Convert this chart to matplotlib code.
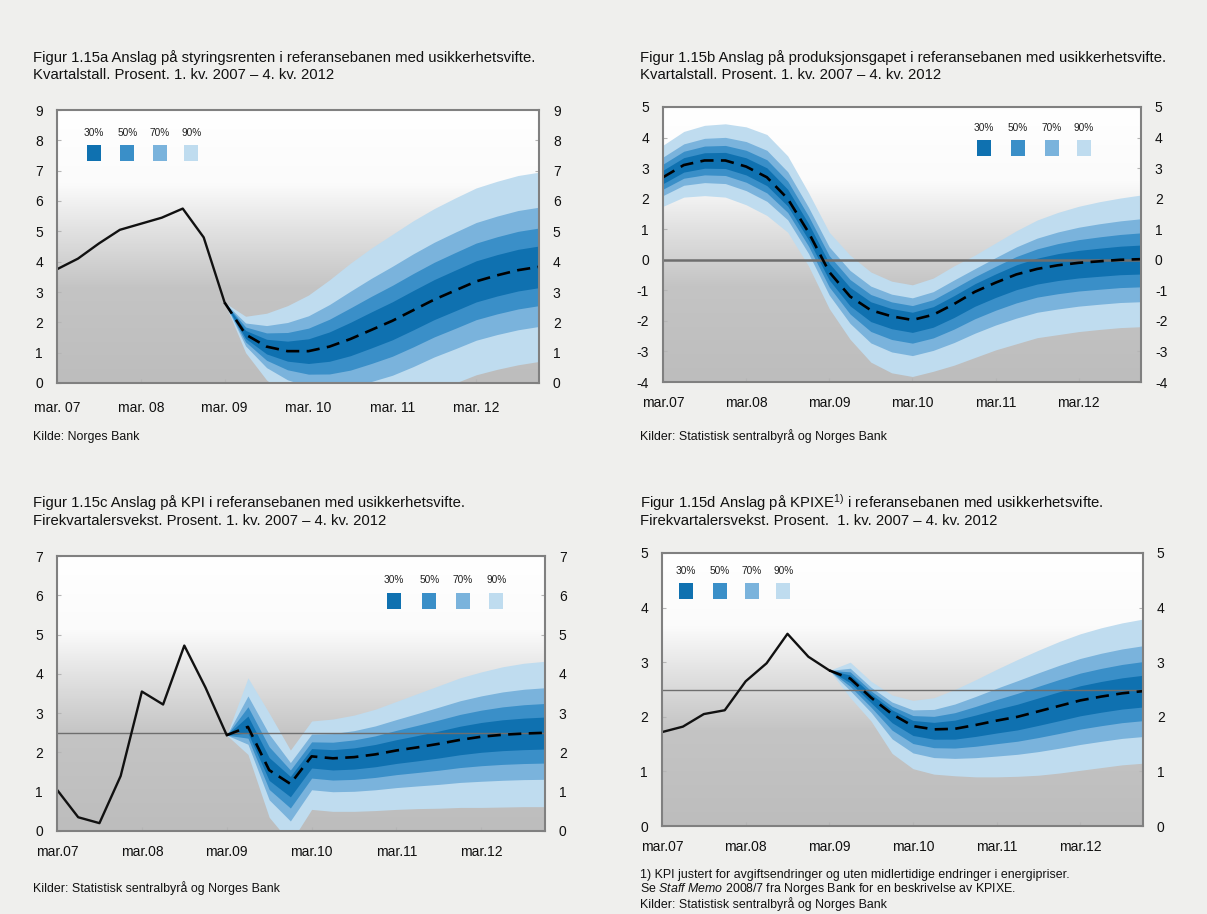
import numpy as np
import matplotlib.pyplot as plt
from matplotlib.colors import LinearSegmentedColormap
from matplotlib.patches import Rectangle

plt.rcParams['font.family'] = ['Liberation Sans', 'DejaVu Sans']
plt.rcParams['axes.unicode_minus'] = False
plt.rcParams['mathtext.fontset'] = 'custom'
plt.rcParams['mathtext.rm'] = 'Liberation Sans'
plt.rcParams['mathtext.it'] = 'Liberation Sans:italic'

# Quarters 1. kv. 2007 - 4. kv. 2012 (0 = 1. kv. 2007)
quarters = np.arange(24)
tick_pos = [0, 4, 8, 12, 16, 20]

# Fan bands: width of each band relative to the 90% band
band_labels = ['30%', '50%', '70%', '90%']
band_share = [0.22, 0.41, 0.63, 1.0]
band_colors = ['#0f71b0', '#3a8fc8', '#7ab3dc', '#bfdcef']

# Figur 1.15a - styringsrenten
rate_hist = [3.75, 4.1, 4.6, 5.05, 5.25, 5.45, 5.75, 4.8, 2.65]
rate_start = 8
rate_med = [2.65, 1.6, 1.2, 1.05, 1.05, 1.2, 1.45, 1.75, 2.05, 2.4, 2.75, 3.05, 3.35, 3.55, 3.72, 3.83]
rate_up90 = [0, 0.6, 1.1, 1.5, 1.85, 2.2, 2.5, 2.7, 2.85, 2.95, 3.0, 3.05, 3.08, 3.1, 3.12, 3.12]
rate_dn90 = rate_up90

# Figur 1.15b - produksjonsgapet (fan over the whole period)
gap_start = 0
gap_med = [2.7, 3.1, 3.25, 3.25, 3.05, 2.7, 2.0, 0.9, -0.4, -1.2, -1.65, -1.85,
           -1.97, -1.8, -1.45, -1.05, -0.75, -0.48, -0.3, -0.18, -0.1, -0.05, 0.0, 0.02]
gap_up90 = [1.05, 1.1, 1.15, 1.2, 1.3, 1.4, 1.4, 1.3, 1.3, 1.35, 1.25, 1.15,
            1.15, 1.2, 1.25, 1.2, 1.3, 1.43, 1.6, 1.73, 1.85, 1.95, 2.02, 2.1]
gap_dn90 = [0.95, 1.05, 1.15, 1.2, 1.25, 1.25, 1.1, 1.1, 1.2, 1.4, 1.7, 1.85,
            1.85, 1.85, 2.0, 2.15, 2.2, 2.27, 2.25, 2.27, 2.25, 2.23, 2.22, 2.21]

# Figur 1.15c - KPI
kpi_hist = [1.05, 0.35, 0.2, 1.4, 3.55, 3.22, 4.72, 3.65, 2.44]
kpi_start = 8
kpi_med = [2.44, 2.65, 1.55, 1.2, 1.9, 1.85, 1.88, 1.95, 2.05, 2.13, 2.22, 2.32, 2.4, 2.45, 2.48, 2.5]
kpi_up90 = [0, 1.25, 1.45, 0.86, 0.9, 1.0, 1.07, 1.15, 1.25, 1.37, 1.48, 1.58, 1.65, 1.73, 1.79, 1.82]
kpi_dn90 = [0, 0.7, 1.2, 1.5, 1.35, 1.35, 1.38, 1.43, 1.5, 1.56, 1.64, 1.72, 1.8, 1.84, 1.86, 1.88]

# Figur 1.15d - KPIXE
kpixe_hist = [1.72, 1.82, 2.05, 2.12, 2.65, 2.98, 3.52, 3.1, 2.85]
kpixe_start = 8
kpixe_med = [2.85, 2.7, 2.35, 2.05, 1.83, 1.77, 1.78, 1.85, 1.93, 2.0, 2.1, 2.2, 2.3, 2.37, 2.43, 2.47]
kpixe_up90 = [0, 0.3, 0.3, 0.35, 0.47, 0.58, 0.72, 0.83, 0.94, 1.05, 1.12, 1.18, 1.22, 1.26, 1.29, 1.32]
kpixe_dn90 = [0, 0.35, 0.43, 0.72, 0.78, 0.82, 0.86, 0.95, 1.03, 1.09, 1.17, 1.23, 1.28, 1.3, 1.31, 1.32]

W, H = 1207, 914
fig = plt.figure(figsize=(W / 100, H / 100), dpi=100, facecolor='#efefed')

bg_cmap = LinearSegmentedColormap.from_list(
    'bg', [(0, '#bdbdbd'), (0.35, '#c4c4c4'), (0.55, '#e0e0e0'), (0.73, '#fbfbfb'), (1, '#ffffff')])
grad = np.linspace(0, 1, 256).reshape(-1, 1)

TITLE = 10.7
NOTE = 8.9


def px_axes(left, top, right, bottom):
    # axes from pixel edges
    return fig.add_axes([left / W, 1 - bottom / H, (right - left) / W, (bottom - top) / H])


def setup(ax, ylim, yticks, xlabels, xpad=10):
    ax.imshow(grad, cmap=bg_cmap, extent=[0, 1, 0, 1], transform=ax.transAxes,
              aspect='auto', origin='lower', zorder=0)
    ax.set_xlim(0, 23)
    ax.set_ylim(*ylim)
    ax.set_yticks(yticks)
    ax.set_xticks(tick_pos)
    ax.set_xticklabels(xlabels)
    ax.tick_params(axis='y', left=True, right=True, labelleft=True, labelright=True,
                   direction='in', length=3, color='#b5b5b5', labelsize=10, pad=10,
                   labelcolor='#111111')
    ax.tick_params(axis='x', direction='in', length=3, color='#b5b5b5', labelsize=10,
                   pad=xpad, labelcolor='#111111')
    for s in ax.spines.values():
        s.set_color('#808080')
        s.set_linewidth(1.5)
        s.set_zorder(10)


def draw_fan(ax, start, med, up90, dn90):
    x = quarters[start:]
    med = np.asarray(med)
    up = np.asarray(up90)
    dn = np.asarray(dn90)
    for share, color in reversed(list(zip(band_share, band_colors))):
        ax.fill_between(x, med - dn * share, med + up * share, color=color, lw=0, zorder=2)
    ax.plot(x, med, color='black', lw=1.9, dashes=(5, 2.8), zorder=7)


def draw_hist(ax, values):
    ax.plot(quarters[:len(values)], values, color='#111111', lw=1.7, zorder=6)


def legend(ax, xs, y, ylab, w, h):
    for cx, lab, color in zip(xs, band_labels, band_colors):
        ax.add_patch(Rectangle((cx - w / 2, y - h / 2), w, h, transform=ax.transAxes,
                               color=color, lw=0, zorder=8))
        ax.text(cx, ylab, lab, transform=ax.transAxes, ha='center', va='center',
                fontsize=7.3, color='#222222', zorder=8)


def ftext(x, y, s, size=TITLE, **kw):
    fig.text(x / W, 1 - y / H, s, fontsize=size, ha='left', va='center', color='#111111', **kw)


labels_a = ['mar. 07', 'mar. 08', 'mar. 09', 'mar. 10', 'mar. 11', 'mar. 12']
labels_b = ['mar.07', 'mar.08', 'mar.09', 'mar.10', 'mar.11', 'mar.12']

# 1.15a
ax = px_axes(57, 110, 539, 383)
setup(ax, (0, 9), range(0, 10), labels_a, xpad=13)
draw_fan(ax, rate_start, rate_med, rate_up90, rate_dn90)
draw_hist(ax, rate_hist)
legend(ax, [0.077, 0.146, 0.213, 0.279], 0.843, 0.916, 14 / 482, 16 / 273)
ftext(33, 58, 'Figur 1.15a Anslag på styringsrenten i referansebanen med usikkerhetsvifte.')
ftext(33, 75, 'Kvartalstall. Prosent. 1. kv. 2007 – 4. kv. 2012')
ftext(33, 437, 'Kilde: Norges Bank', size=NOTE)

# 1.15b
ax = px_axes(663, 107, 1141, 382)
setup(ax, (-4, 5), range(-4, 6), labels_b)
draw_fan(ax, gap_start, gap_med, gap_up90, gap_dn90)
ax.axhline(0, color='#6e6e6e', lw=1.8, zorder=5)
legend(ax, [0.672, 0.742, 0.813, 0.881], 0.851, 0.924, 14 / 478, 16 / 275)
ftext(640, 58, 'Figur 1.15b Anslag på produksjonsgapet i referansebanen med usikkerhetsvifte.')
ftext(640, 75, 'Kvartalstall. Prosent. 1. kv. 2007 – 4. kv. 2012')
ftext(640, 436, 'Kilder: Statistisk sentralbyrå og Norges Bank', size=NOTE)

# 1.15c
ax = px_axes(57, 556, 545, 831)
setup(ax, (0, 7), range(0, 8), labels_b)
draw_fan(ax, kpi_start, kpi_med, kpi_up90, kpi_dn90)
ax.axhline(2.5, color='#6e6e6e', lw=1.0, zorder=5)
draw_hist(ax, kpi_hist)
legend(ax, [0.69, 0.763, 0.832, 0.90], 0.836, 0.913, 14 / 488, 16 / 275)
ftext(33, 503, 'Figur 1.15c Anslag på KPI i referansebanen med usikkerhetsvifte.')
ftext(33, 521, 'Firekvartalersvekst. Prosent. 1. kv. 2007 – 4. kv. 2012')
ftext(33, 888, 'Kilder: Statistisk sentralbyrå og Norges Bank', size=NOTE)

# 1.15d
ax = px_axes(662, 553, 1143, 826)
setup(ax, (0, 5), range(0, 6), labels_b)
draw_fan(ax, kpixe_start, kpixe_med, kpixe_up90, kpixe_dn90)
ax.axhline(2.5, color='#6e6e6e', lw=1.0, zorder=5)
draw_hist(ax, kpixe_hist)
legend(ax, [0.05, 0.12, 0.187, 0.252], 0.861, 0.934, 14 / 481, 16 / 273)
ftext(640, 503, r'Figur 1.15d Anslag på KPIXE$^{\mathregular{1)}}$ i referansebanen med usikkerhetsvifte.')
ftext(640, 521, 'Firekvartalersvekst. Prosent.  1. kv. 2007 – 4. kv. 2012')
ftext(640, 875, '1) KPI justert for avgiftsendringer og uten midlertidige endringer i energipriser.', size=NOTE)
ftext(640, 889, r'Se $\mathit{Staff\ Memo}$ 2008/7 fra Norges Bank for en beskrivelse av KPIXE.', size=NOTE)
ftext(640, 904, 'Kilder: Statistisk sentralbyrå og Norges Bank', size=NOTE)

fig.savefig('out.png', dpi=100, facecolor=fig.get_facecolor())
